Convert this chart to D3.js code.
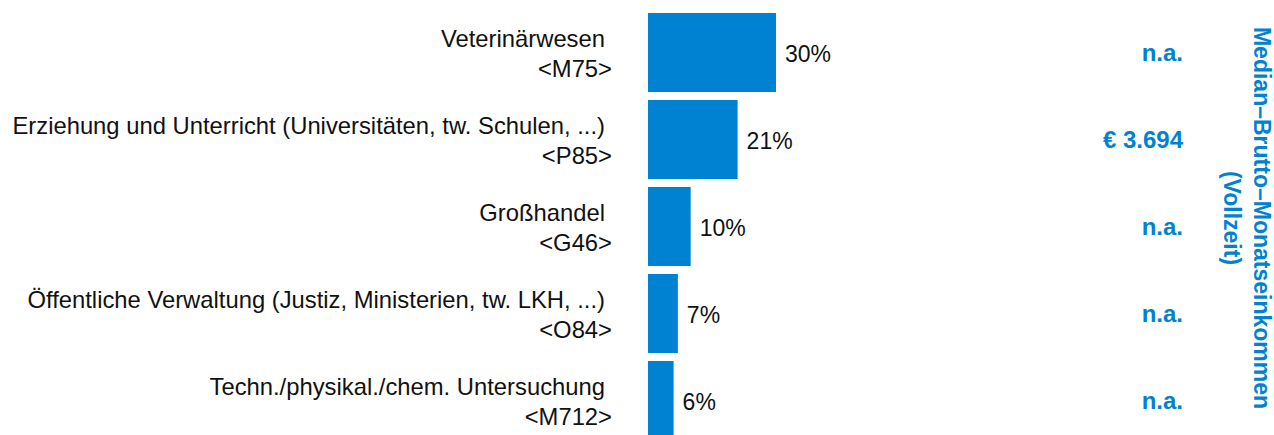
<!DOCTYPE html>
<html>
<head>
<meta charset="UTF-8">
<script src="https://cdn.jsdelivr.net/npm/d3@7"></script>
<style>
  body { margin: 0; background: #fff; }
  text { font-family: "Liberation Sans", Arial, sans-serif; }
</style>
</head>
<body>
<svg id="chart" width="1274" height="435"></svg>
<script>
  // data
  const branchen = [
    "Veterinärwesen",
    "Erziehung und Unterricht (Universitäten, tw. Schulen, ...)",
    "Großhandel",
    "Öffentliche Verwaltung (Justiz, Ministerien, tw. LKH, ...)",
    "Techn./physikal./chem. Untersuchung"
  ];
  const codes = ["<M75>", "<P85>", "<G46>", "<O84>", "<M712>"];
  const anteile = [30, 21, 10, 7, 6];
  const einkommen = ["n.a.", "€ 3.694", "n.a.", "n.a.", "n.a."];
  const titel = ["Median–Brutto–Monatseinkommen", "(Vollzeit)"];

  const blue = "#0082d2";
  const svg = d3.select("#chart");

  const rows = branchen.map((b, i) => ({ name: b, code: codes[i], value: anteile[i], eink: einkommen[i] }));

  const y = d3.scaleBand()
    .domain(rows.map(d => d.name))
    .range([9, 444])
    .paddingInner(8 / 87)
    .paddingOuter(4 / 87);

  const x = d3.scaleLinear()
    .domain([0, 30])
    .range([648, 776]);

  const g = svg.selectAll("g.row")
    .data(rows)
    .join("g")
    .attr("class", "row");

  g.append("rect")
    .attr("x", x(0))
    .attr("y", d => y(d.name))
    .attr("width", d => x(d.value) - x(0))
    .attr("height", y.bandwidth())
    .attr("fill", blue);

  const mid = d => y(d.name) + y.bandwidth() / 2;

  // Branche, zweizeilig
  g.append("text")
    .attr("x", 605)
    .attr("y", d => mid(d) - 6)
    .attr("text-anchor", "end")
    .attr("font-size", 23.8)
    .attr("fill", "#111")
    .text(d => d.name);

  g.append("text")
    .attr("x", 612)
    .attr("y", d => mid(d) + 24)
    .attr("text-anchor", "end")
    .attr("font-size", 23.8)
    .attr("fill", "#111")
    .text(d => d.code);

  g.append("text")
    .attr("x", d => x(d.value) + 9)
    .attr("y", d => mid(d) + 9)
    .attr("font-size", 23)
    .attr("fill", "#111")
    .text(d => d.value + "%");

  g.append("text")
    .attr("x", 1183)
    .attr("y", d => mid(d) + 8)
    .attr("text-anchor", "end")
    .attr("font-size", 24)
    .attr("font-weight", "bold")
    .attr("fill", blue)
    .text(d => d.eink);

  svg.append("text")
    .attr("transform", "translate(1254,218) rotate(90)")
    .attr("text-anchor", "middle")
    .attr("font-size", 23)
    .attr("font-weight", "bold")
    .attr("fill", blue)
    .selectAll("tspan")
    .data(titel)
    .join("tspan")
    .attr("x", 0)
    .attr("dy", (d, i) => i === 0 ? 0 : 30)
    .text(d => d);
</script>
</body>
</html>
